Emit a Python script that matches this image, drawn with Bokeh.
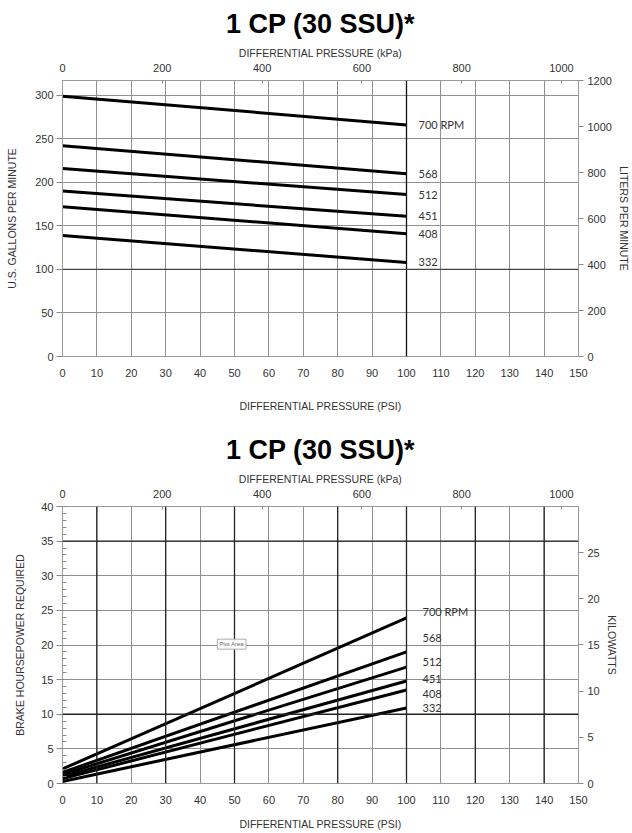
from bokeh.plotting import figure
from bokeh.models import (Range1d, LinearAxis, SingleIntervalTicker, Span, Label,
                          ColumnDataSource)
from bokeh.layouts import column
from bokeh.core.properties import value
from bokeh.embed import file_html
from bokeh.resources import INLINE

# ---------------- data ----------------
title_text = "1 CP (30 SSU)*"
psi = [0, 100]
rpm_labels = ["700 RPM", "568", "512", "451", "408", "332"]
gpm_start = [299, 242, 216, 190, 172, 139]
gpm_end = [266, 210, 186, 161, 141, 108]
hp_start = [2.1, 1.6, 1.3, 1.0, 0.7, 0.3]
hp_end = [23.9, 19.0, 16.8, 14.8, 13.5, 10.9]
hp_label_at = [24.8, 21.0, 17.5, 15.1, 12.9, 10.9]

PSI_TO_KPA = 6.89476
GPM_TO_LPM = 3.78541
HP_TO_KW = 0.7457

TICK_FONT = "Liberation Sans"
LBL_COLOR = "#333333"
GRID = "#8f8f8f"


def style_axis(ax, label, tick_out, tick_in, lab_standoff, axl_standoff):
    ax.axis_label = label
    ax.axis_label_text_font = TICK_FONT
    ax.axis_label_text_font_size = "10.5px"
    ax.axis_label_text_font_style = "normal"
    ax.axis_label_text_color = LBL_COLOR
    ax.axis_label_standoff = axl_standoff
    ax.major_label_text_font = TICK_FONT
    ax.major_label_text_font_size = "11px"
    ax.major_label_text_color = LBL_COLOR
    ax.major_label_standoff = lab_standoff
    ax.major_tick_out = tick_out
    ax.major_tick_in = tick_in
    ax.major_tick_line_color = "#888888"
    ax.minor_tick_line_color = None
    ax.axis_line_color = "#9a9a9a"


def make_fig(height, top, bottom, y_end, y_interval, r_end, r_interval,
             ylabel, rlabel, minor=False):
    p = figure(width=632, height=height, x_range=Range1d(0, 150),
               y_range=Range1d(0, y_end), output_backend="svg",
               toolbar_location=None, min_border_left=62, min_border_right=53,
               min_border_top=top, min_border_bottom=bottom,
               x_axis_location=None, y_axis_location=None)
    p.title.text = title_text
    p.title.align = "center"
    p.title.text_font = "Liberation Sans"
    p.title.text_font_size = "27px"
    p.title.text_font_style = "bold"
    p.title.text_color = "#000000"
    p.title.standoff = 10
    p.background_fill_color = "white"
    p.border_fill_color = "white"
    p.outline_line_color = "#9a9a9a"

    p.extra_x_ranges = {"kpa": Range1d(0, 150 * PSI_TO_KPA)}
    p.extra_y_ranges = {"right": Range1d(0, r_end)}

    bx = LinearAxis(ticker=SingleIntervalTicker(interval=10))
    style_axis(bx, "DIFFERENTIAL PRESSURE (PSI)", 0, 0, 8, 20 if not minor else 11)
    p.add_layout(bx, "below")

    tx = LinearAxis(x_range_name="kpa", ticker=SingleIntervalTicker(interval=200))
    style_axis(tx, "DIFFERENTIAL PRESSURE (kPa)", 0, 3, 5, 2)
    p.add_layout(tx, "above")

    if minor:
        ly = LinearAxis(ticker=SingleIntervalTicker(interval=y_interval, num_minor_ticks=5))
    else:
        ly = LinearAxis(ticker=SingleIntervalTicker(interval=y_interval))
    style_axis(ly, ylabel, 6, 0, 3, 12 if minor else 14)
    if minor:
        ly.minor_tick_line_color = "#888888"
        ly.minor_tick_in = 4
        ly.minor_tick_out = 0
    p.add_layout(ly, "left")

    ry = LinearAxis(y_range_name="right", ticker=SingleIntervalTicker(interval=r_interval))
    style_axis(ry, rlabel, 5, 0, 4, 3)
    p.add_layout(ry, "right")

    p.xgrid.ticker = bx.ticker
    p.ygrid.ticker = ly.ticker
    for g in (p.xgrid, p.ygrid):
        g.grid_line_color = GRID
        g.grid_line_width = 1
    return p


# ---------------- top chart ----------------
p1 = make_fig(415, 80, 59, 1200 / GPM_TO_LPM, 50, 1200, 200,
              "U.S. GALLONS PER MINUTE", "LITERS PER MINUTE")
p1.add_layout(Span(location=100, dimension="height", line_color="#111111", line_width=1.3))
p1.add_layout(Span(location=100, dimension="width", line_color="#444444", line_width=1.3))
p1.multi_line(xs=[psi] * len(gpm_start),
              ys=[[a, b] for a, b in zip(gpm_start, gpm_end)],
              line_color="black", line_width=3)
src1 = ColumnDataSource(dict(x=[psi[1]] * len(gpm_end), y=gpm_end, t=rpm_labels))
p1.text(x="x", y="y", text="t", source=src1, x_offset=12, text_baseline="middle",
        text_font=value("Lato"), text_font_size="11px", text_color="#333333")

# ---------------- bottom chart ----------------
p2 = make_fig(418, 91, 50, 40, 5, 40 * HP_TO_KW + 0.17, 5,
              "BRAKE HOURSEPOWER REQUIRED", "KILOWATTS", minor=True)
for xv in (10, 30, 50, 80, 100, 120, 140):
    p2.add_layout(Span(location=xv, dimension="height", line_color="#222222", line_width=1.3))
for yv in (35, 10):
    p2.add_layout(Span(location=yv, dimension="width", line_color="#222222", line_width=1.3))
p2.multi_line(xs=[psi] * len(hp_start),
              ys=[[a, b] for a, b in zip(hp_start, hp_end)],
              line_color="black", line_width=3)
src2 = ColumnDataSource(dict(x=[psi[1]] * len(hp_end), y=hp_label_at, t=rpm_labels))
p2.text(x="x", y="y", text="t", source=src2, x_offset=16, text_baseline="middle",
        text_font=value("Lato"), text_font_size="11px", text_color="#333333")
p2.add_layout(Label(x=45, y=19.4, text="Plot Area", text_font_size="6px",
                    text_color="#666666", border_line_color="#aaaaaa",
                    background_fill_color="white", padding=2))

layout = column(p1, p2, spacing=0)
open("out.html", "w").write(file_html(layout, INLINE))
